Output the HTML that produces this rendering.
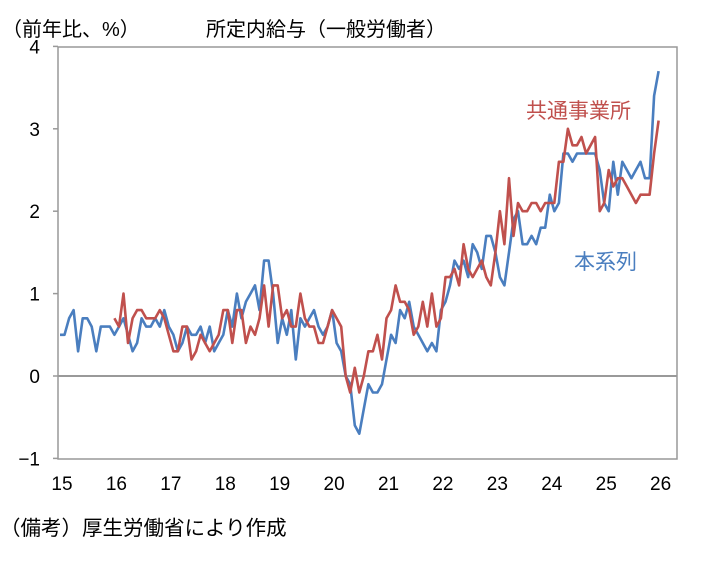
<!DOCTYPE html>
<html><head><meta charset="utf-8"><style>
body{margin:0;background:#fff;width:703px;height:560px;overflow:hidden;font-family:"Liberation Sans","Noto Sans CJK JP",sans-serif;}
svg text{font-family:"Liberation Sans","Noto Sans CJK JP",sans-serif;}
</style></head><body>
<svg id="c" width="703" height="560"></svg>
<script>
const yTicks=[4,3,2,1,0,-1];
const xLabels=["15","16","17","18","19","20","21","22","23","24","25","26"];
const blueSeries=[0.5,0.5,0.7,0.8,0.3,0.7,0.7,0.6,0.3,0.6,0.6,0.6,
0.5,0.6,0.7,0.5,0.3,0.4,0.7,0.6,0.6,0.7,0.6,0.8,
0.6,0.5,0.3,0.4,0.6,0.5,0.5,0.6,0.4,0.6,0.3,0.4,
0.5,0.8,0.6,1.0,0.7,0.9,1.0,1.1,0.8,1.4,1.4,1.0,
0.4,0.7,0.5,0.8,0.2,0.7,0.6,0.7,0.8,0.6,0.5,0.6,
0.8,0.4,0.3,0.0,-0.1,-0.6,-0.7,-0.4,-0.1,-0.2,-0.2,-0.1,
0.2,0.5,0.4,0.8,0.7,0.9,0.6,0.5,0.4,0.3,0.4,0.3,
0.8,0.9,1.1,1.4,1.3,1.4,1.2,1.6,1.5,1.3,1.7,1.7,
1.5,1.2,1.1,1.5,1.9,2.0,1.6,1.6,1.7,1.6,1.8,1.8,
2.2,2.0,2.1,2.7,2.7,2.6,2.7,2.7,2.7,2.7,2.7,2.5,
2.1,2.0,2.6,2.2,2.6,2.5,2.4,2.5,2.6,2.4,2.4,3.4,
3.7];
const redStart=12;
const redSeries=[0.7,0.6,1.0,0.4,0.7,0.8,0.8,0.7,0.7,0.7,0.8,0.7,
0.5,0.3,0.3,0.6,0.6,0.2,0.3,0.5,0.4,0.3,0.4,0.5,
0.8,0.8,0.4,0.8,0.8,0.4,0.6,0.5,0.7,1.1,0.6,1.1,
1.1,0.7,0.8,0.6,0.6,1.0,0.7,0.6,0.6,0.4,0.4,0.6,
0.8,0.7,0.6,0.0,-0.2,0.1,-0.2,0.0,0.3,0.3,0.5,0.2,
0.7,0.8,1.1,0.9,0.9,0.8,0.5,0.6,0.9,0.6,1.0,0.6,
0.7,1.2,1.2,1.3,1.1,1.6,1.3,1.2,1.3,1.4,1.2,1.1,
1.5,2.0,1.6,2.4,1.7,2.1,2.0,2.0,2.1,2.1,2.0,2.1,
2.1,2.1,2.6,2.6,3.0,2.8,2.8,2.9,2.7,2.8,2.9,2.0,
2.1,2.5,2.3,2.4,2.4,2.3,2.2,2.1,2.2,2.2,2.2,2.7,
3.1];
const NS="http://www.w3.org/2000/svg";
const svg=document.getElementById('c');
const L=58,R=677,T=47,B=459,x0=60,step=4.535;
const yScale=v=>376-v*82.4;
const xScale=i=>x0+i*step;
function mk(tag,attrs,parent){const e=document.createElementNS(NS,tag);for(const k in attrs)e.setAttribute(k,attrs[k]);(parent||svg).appendChild(e);return e;}
const frame=mk('rect',{x:L,y:T,width:R-L,height:B-T,fill:'none',stroke:'#999','stroke-width':1.5});


yTicks.forEach(v=>{
  const t=mk('text',{x:40,y:yScale(v)+7,'text-anchor':'end','font-size':19,fill:'#000'});
  t.textContent=v===-1?'−1':String(v);
  
  
  const tk=mk('line',{x1:L-5,x2:L,y1:yScale(v),y2:yScale(v),stroke:'#999','stroke-width':1.5});
  
  
});
const zl=mk('line',{x1:L,x2:R,y1:yScale(0),y2:yScale(0),stroke:'#999','stroke-width':2});


xLabels.forEach((s,k)=>{
  const t=mk('text',{x:xScale(k*12)+2,y:490,'text-anchor':'middle','font-size':19,fill:'#000'});
  t.textContent=s;
  
  
});
function line(data,start,color,name){
  const pts=data.map((v,i)=>xScale(i+start).toFixed(1)+','+yScale(v).toFixed(1)).join(' ');
  const p=mk('polyline',{points:pts,fill:'none',stroke:color,'stroke-width':2.6,'stroke-linejoin':'round'});
  
  
}
line(blueSeries,0,'#4a7ebf','series-line-honkeiretsu');
line(redSeries,redStart,'#c0504d','series-line-kyotsu-jigyosho');
function txt(x,y,s,size,color,name,anchor){
  const t=mk('text',{x:x,y:y,'font-size':size,fill:color,'text-anchor':anchor||'start'});
  t.textContent=s;
  
  
}
txt(2,36,'（前年比、%）',20,'#000','y-axis-unit');
txt(206,36,'所定内給与（一般労働者）',20,'#000','chart-title');
txt(526,118,'共通事業所',21,'#c0504d','label-kyotsu-jigyosho');
txt(574,269,'本系列',21,'#4a7ebf','label-honkeiretsu');
txt(0,535,'（備考）厚生労働省により作成',20.5,'#000','source-note');
</script>
</body></html>
